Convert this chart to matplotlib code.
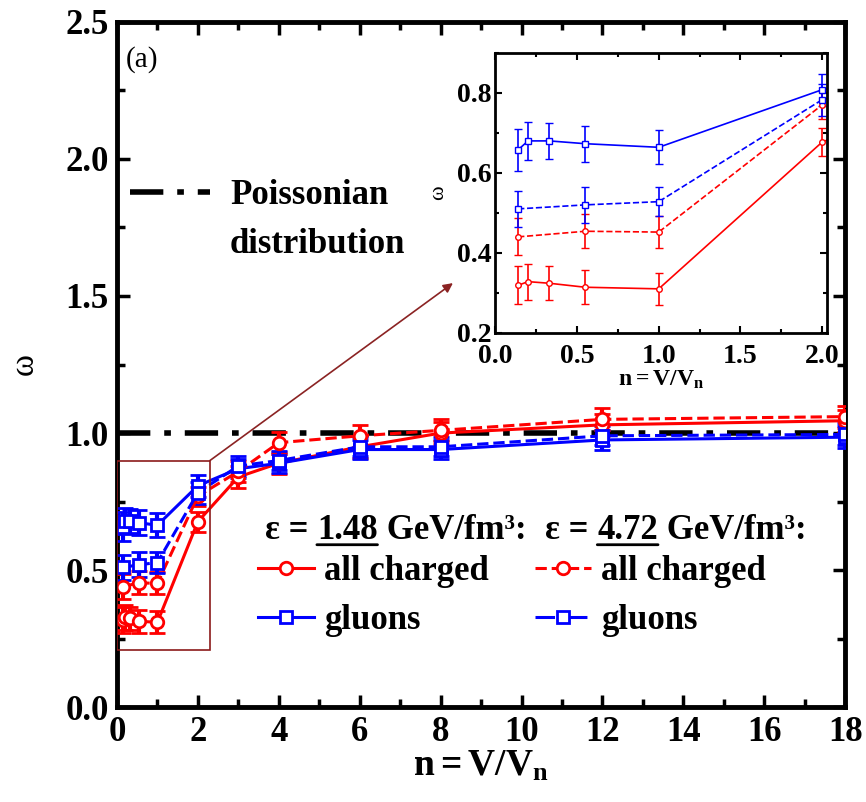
import matplotlib
matplotlib.use('Agg')
import matplotlib.pyplot as plt
from matplotlib.lines import Line2D
from matplotlib.patches import Rectangle
from matplotlib.ticker import MultipleLocator, FormatStrFormatter

# dados
n_sol = [0.14, 0.2, 0.33, 0.55, 1.0, 2, 3, 4, 6, 8, 12, 18]
n_dash = [0.14, 0.55, 1.0, 2, 3, 4, 6, 8, 12, 18]

ch_148 = [0.319, 0.328, 0.324, 0.314, 0.310, 0.677, 0.84, 0.89, 0.95, 1.00, 1.03, 1.045]
ch_148_err = [0.048, 0.045, 0.043, 0.042, 0.040, 0.036, 0.04, 0.04, 0.04, 0.04, 0.04, 0.04]
gl_148 = [0.658, 0.680, 0.680, 0.673, 0.664, 0.808, 0.87, 0.89, 0.94, 0.94, 0.975, 0.985]
gl_148_err = [0.053, 0.047, 0.045, 0.045, 0.043, 0.040, 0.035, 0.035, 0.035, 0.035, 0.035, 0.04]

ch_472 = [0.44, 0.454, 0.452, 0.77, 0.86, 0.965, 0.99, 1.01, 1.05, 1.06]
ch_472_err = [0.046, 0.042, 0.040, 0.035, 0.04, 0.04, 0.04, 0.04, 0.04, 0.04]
gl_472 = [0.51, 0.52, 0.528, 0.783, 0.88, 0.90, 0.95, 0.95, 0.99, 0.995]
gl_472_err = [0.045, 0.045, 0.037, 0.040, 0.035, 0.035, 0.035, 0.035, 0.035, 0.04]

poisson = 1.0

plt.rcParams['font.family'] = ['Liberation Serif', 'DejaVu Serif']
plt.rcParams['font.weight'] = 'bold'
plt.rcParams['mathtext.fontset'] = 'custom'
plt.rcParams['mathtext.rm'] = 'Liberation Serif:bold'
plt.rcParams['mathtext.bf'] = 'Liberation Serif:bold'
plt.rcParams['mathtext.it'] = 'Liberation Serif:bold'

RED = '#ff0000'
BLUE = '#0000ff'
DASHDOT = (0, (6, 2.5, 1.2, 2.5))

series = [
    (n_sol, ch_148, ch_148_err, RED, '-', 'o'),
    (n_sol, gl_148, gl_148_err, BLUE, '-', 's'),
    (n_dash, ch_472, ch_472_err, RED, '--', 'o'),
    (n_dash, gl_472, gl_472_err, BLUE, '--', 's'),
]

fig = plt.figure(figsize=(8.66, 8.02), dpi=100)
ax = fig.add_axes([0.135, 0.118, 0.841, 0.855])

ax.axhline(poisson, color='black', linestyle=DASHDOT, lw=4, zorder=1)

for x, y, e, c, ls, mk in series:
    ax.errorbar(x, y, yerr=e, color=c, ls=ls, lw=2.2, marker=mk, ms=9,
                mfc='white', mec=c, mew=2, elinewidth=3, capsize=6, capthick=3, zorder=3)

ax.set_xlim(0, 18)
ax.set_ylim(0, 2.5)
ax.xaxis.set_major_locator(MultipleLocator(2))
ax.xaxis.set_minor_locator(MultipleLocator(1))
ax.yaxis.set_major_locator(MultipleLocator(0.5))
ax.yaxis.set_minor_locator(MultipleLocator(0.25))
ax.yaxis.set_major_formatter(FormatStrFormatter('%.1f'))
ax.tick_params(which='both', direction='in', top=True, right=True, width=2.5)
ax.tick_params(which='major', length=9, labelsize=25, pad=6)
ax.tick_params(which='minor', length=6)
for s in ax.spines.values():
    s.set_linewidth(3.5)

ax.set_xlabel(r'$\mathbf{n = V/V_n}$', fontsize=27, labelpad=0)
ax.set_ylabel('ω', fontsize=24, fontweight='normal', labelpad=18)

ax.text(0.012, 0.965, '(a)', transform=ax.transAxes, fontsize=21, fontweight='normal', va='top')

# linha de Poisson na legenda
leg0 = ax.legend(handles=[Line2D([], [], color='black', lw=4, linestyle=DASHDOT)],
                 labels=['Poissonian'], loc='upper left', bbox_to_anchor=(0.018, 0.77),
                 frameon=False, fontsize=25, handlelength=2.3, handletextpad=0.6,
                 borderaxespad=0, borderpad=0)
ax.add_artist(leg0)
ax.text(0.275, 0.675, 'distribution', transform=ax.transAxes, fontsize=25, ha='center', va='center')

# caixa e seta
ax.add_patch(Rectangle((0, 0.21), 2.3, 0.69, fill=False, edgecolor='#8b1a1a', lw=1.2, zorder=4))
ax.annotate('', xy=(0.523, 0.647), xycoords='figure fraction', xytext=(2.3, 0.9), textcoords='data',
            arrowprops=dict(arrowstyle='-|>', color='#8b2323', lw=1.2, mutation_scale=14,
                            shrinkA=0, shrinkB=0))

# cabecalhos com sublinhado
def cabecalho(xf, yf, valor):
    t1 = ax.text(xf, yf, 'ε = ', transform=ax.transAxes, fontsize=25, va='baseline')
    t2 = ax.annotate(valor, xy=(1, 0), xycoords=t1, fontsize=25, va='bottom', ha='left')
    ax.annotate(' GeV/fm³:', xy=(1, 0), xycoords=t2, fontsize=25, va='bottom', ha='left')
    ax.annotate('', xy=(0, 0.08), xycoords=t2, xytext=(1, 0.08), textcoords=t2,
                arrowprops=dict(arrowstyle='-', lw=2, color='black', shrinkA=0, shrinkB=0))

cabecalho(0.203, 0.245, '1.48')
cabecalho(0.588, 0.245, '4.72')

h_sol = [Line2D([], [], color=RED, lw=2.2, marker='o', ms=9, mfc='white', mec=RED, mew=2),
         Line2D([], [], color=BLUE, lw=2.2, marker='s', ms=9, mfc='white', mec=BLUE, mew=2)]
h_dash = [Line2D([], [], color=RED, lw=2.2, ls='--', marker='o', ms=9, mfc='white', mec=RED, mew=2),
          Line2D([], [], color=BLUE, lw=2.2, ls='-.', marker='s', ms=9, mfc='white', mec=BLUE, mew=2)]
leg1 = ax.legend(handles=h_sol, labels=['all charged', 'gluons'], loc='upper left',
                 bbox_to_anchor=(0.194, 0.222), frameon=False, fontsize=25, handlelength=1.6,
                 handletextpad=0.3, labelspacing=0.45, borderaxespad=0, borderpad=0)
ax.add_artist(leg1)
ax.legend(handles=h_dash, labels=['all charged', 'gluons'], loc='upper left',
          bbox_to_anchor=(0.574, 0.222), frameon=False, fontsize=25, handlelength=1.6,
          handletextpad=0.3, labelspacing=0.45, borderaxespad=0, borderpad=0)

# inset
ins = fig.add_axes([0.572, 0.585, 0.383, 0.349])
for x, y, e, c, ls, mk in series:
    ins.errorbar(x, y, yerr=e, color=c, ls=ls, lw=1.2, marker=mk, ms=4,
                 mfc='white', mec=c, mew=1, elinewidth=1.2, capsize=3, capthick=1.2)
ins.set_xlim(0, 2.03)
ins.set_ylim(0.2, 0.9)
ins.xaxis.set_major_locator(MultipleLocator(0.5))
ins.xaxis.set_minor_locator(MultipleLocator(0.25))
ins.yaxis.set_major_locator(MultipleLocator(0.2))
ins.yaxis.set_minor_locator(MultipleLocator(0.1))
ins.xaxis.set_major_formatter(FormatStrFormatter('%.1f'))
ins.yaxis.set_major_formatter(FormatStrFormatter('%.1f'))
ins.tick_params(which='both', direction='in', top=True, right=True, width=1.5)
ins.tick_params(which='major', length=5, labelsize=20)
ins.tick_params(axis='x', which='major', pad=8)
ins.tick_params(axis='y', which='major', pad=3)
ins.tick_params(which='minor', length=3)
for s in ins.spines.values():
    s.set_linewidth(2)
ins.set_xlabel(r'$\mathbf{n = V/V_n}$', fontsize=17, labelpad=0)
ins.set_ylabel('ω', fontsize=16, fontweight='normal', labelpad=6)

fig.savefig('out.png', dpi=100)
